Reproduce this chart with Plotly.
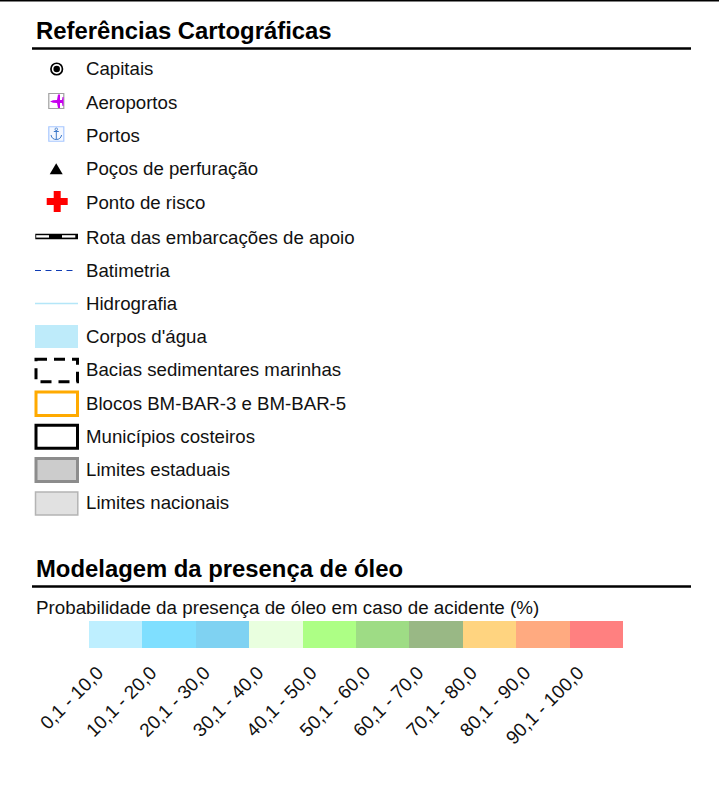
import plotly.graph_objects as go

W, H = 719, 809
FONT = "Liberation Sans, Arial, sans-serif"

title_refs = "Referências Cartográficas"
title_model = "Modelagem da presença de óleo"
subtitle = "Probabilidade da presença de óleo em caso de acidente (%)"

legend_labels = ["Capitais", "Aeroportos", "Portos", "Poços de perfuração", "Ponto de risco",
                 "Rota das embarcações de apoio", "Batimetria", "Hidrografia", "Corpos d'água",
                 "Bacias sedimentares marinhas", "Blocos BM-BAR-3 e BM-BAR-5",
                 "Municípios costeiros", "Limites estaduais", "Limites nacionais"]
row_y = [70, 104, 137, 170, 204, 239, 272, 305, 338, 371, 405, 438, 471, 504]

class_labels = ["0,1 - 10,0", "10,1 - 20,0", "20,1 - 30,0", "30,1 - 40,0", "40,1 - 50,0",
                "50,1 - 60,0", "60,1 - 70,0", "70,1 - 80,0", "80,1 - 90,0", "90,1 - 100,0"]
class_colors = ["#BEEFFF", "#7FDFFF", "#7FD2F2", "#E9FFDF", "#ADFF85",
                "#9EDC85", "#99B885", "#FFD480", "#FFAA80", "#FF8080"]
class_heights = [1] * 10

ICON_CX = 56.7
fig = go.Figure()

# Legend labels
fig.add_trace(go.Scatter(x=[86] * len(legend_labels), y=row_y, mode="text", text=legend_labels,
                         textposition="middle right", cliponaxis=False,
                         textfont=dict(family=FONT, size=18.67, color="#111111"), hoverinfo="skip"))
# Section titles
fig.add_trace(go.Scatter(x=[36, 36], y=[33.5, 571.5], mode="text",
                         text=[f"<b>{title_refs}</b>", f"<b>{title_model}</b>"],
                         textposition="middle right",
                         textfont=dict(family=FONT, size=23.85, color="#000000"), hoverinfo="skip"))
fig.add_trace(go.Scatter(x=[36], y=[609], mode="text", text=[subtitle], textposition="middle right",
                         textfont=dict(family=FONT, size=18.8, color="#111111"), hoverinfo="skip"))

def marker(y, symbol, size, color, line_color=None, line_width=0):
    fig.add_trace(go.Scatter(x=[ICON_CX], y=[y], mode="markers", hoverinfo="skip",
                             marker=dict(symbol=symbol, size=size, color=color,
                                         line=dict(color=line_color or color, width=line_width))))

def seg(x0, y0, x1, y1, color, width, dash=None):
    fig.add_shape(type="line", x0=x0, y0=y0, x1=x1, y1=y1, line=dict(color=color, width=width, dash=dash))

def box(y, h, fill, line, width, dash=None, x0=36, x1=77.5):
    fig.add_shape(type="rect", x0=x0, x1=x1, y0=y - h / 2, y1=y + h / 2, fillcolor=fill,
                  line=dict(color=line, width=width, dash=dash))

def poly(path, fill, line=None, width=0):
    fig.add_shape(type="path", path=path, fillcolor=fill, line=dict(color=line or fill, width=width))

# Capitais
marker(69, "circle", 11.5, "#FFFFFF", "#000000", 1.7)
marker(69, "circle", 6.5, "#000000")
# Aeroportos
y = 101
box(y, 15, "#FFFFFF", "#A0A0A0", 1.2, x0=48.8, x1=63.8)
purple = "#C800F0"
poly(f"M 50 {y+0.5} L 53 {y-0.7} L 57 {y-1} L 58 {y-6.5} L 60 {y-6.5} L 60 {y-1} L 62 {y-1} "
     f"L 62.5 {y-4} L 63.5 {y-4} L 63.5 {y+5} L 62.5 {y+5} L 62 {y+2} L 60 {y+2} L 60 {y+7} "
     f"L 58 {y+7} L 57 {y+2} L 53 {y+1.7} Z", purple)
# Portos
y = 134
box(y, 14.5, "#F4F8FF", "#A8C8FF", 1.2, x0=48.8, x1=63.8)
seg(56.3, y - 4, 56.3, y + 5.5, "#3C78C8", 1)
seg(53.8, y - 2.5, 58.8, y - 2.5, "#3C78C8", 1)
fig.add_shape(type="circle", x0=55, x1=57.6, y0=y - 6, y1=y - 3.5, line=dict(color="#3C78C8", width=0.8))
fig.add_shape(type="path", path=f"M 51 {y+1} Q 52 {y+5.5} 56.3 {y+5.5} Q 60.6 {y+5.5} 61.6 {y+1}",
              line=dict(color="#3C78C8", width=1))
# Poços
poly("M 49.7 174.3 L 56.2 163.3 L 62.7 174.3 Z", "#000000")
# Ponto de risco
seg(46.7, 201.5, 67.7, 201.5, "#FF0000", 7)
seg(57.2, 191, 57.2, 212, "#FF0000", 7)
# Rota
y = 236.4
seg(35.3, y, 78, y, "#000000", 5.5)
seg(36.2, y, 49, y, "#FFFFFF", 2.4)
seg(62, y, 75.3, y, "#FFFFFF", 2.4)
# Batimetria
seg(35, 270.5, 73.5, 270.5, "#0F3CB4", 1, "6px,4.5px")
# Hidrografia
seg(35, 303.5, 78, 303.5, "#B4E6F8", 1.4)
# Corpos d'água
box(336.5, 23, "#BEEBFA", "#BEEBFA", 0, x0=35, x1=78)
# Bacias
box(370.4, 22.5, "#FFFFFF", "#000000", 3, "11px,7px")
# Blocos
box(403.7, 23.5, "#FFFFFF", "#FFAA00", 3)
# Municípios
box(436.7, 23, "#FFFFFF", "#000000", 3)
# Limites
box(470, 23, "#CCCCCC", "#8C8C8C", 3)
box(503.5, 23, "#E1E1E1", "#B4B4B4", 1.5, x0=35.5, x1=77.8)

# Rules
seg(0, 0.5, W, 0.5, "#000000", 2)
seg(32, 48.5, 691, 48.5, "#000000", 2.5)
seg(32, 586.5, 691, 586.5, "#000000", 2.5)

# Colour classes through a categorical axis
fig.add_trace(go.Bar(x=class_labels, y=class_heights, marker=dict(color=class_colors, line=dict(width=0)),
                     width=1, xaxis="x2", yaxis="y2", hoverinfo="skip"))

fig.update_layout(
    width=W, height=H, margin=dict(l=0, r=0, t=0, b=0), autosize=False,
    paper_bgcolor="#FFFFFF", plot_bgcolor="rgba(0,0,0,0)", showlegend=False, bargap=0,
    xaxis=dict(range=[0, W], visible=False, domain=[0, 1]),
    yaxis=dict(range=[H, 0], visible=False, domain=[0, 1]),
    xaxis2=dict(domain=[89 / W, 623 / W], anchor="y2", type="category", tickangle=-45, showgrid=False,
                ticks="", ticklen=0, showline=False, zeroline=False, automargin=False,
                ticklabelshift=-18, ticklabelstandoff=9,
                tickfont=dict(family=FONT, size=18.9, color="#111111")),
    yaxis2=dict(domain=[1 - 648 / H, 1 - 621 / H], anchor="x2", range=[0, 1], visible=False),
)
fig.write_html("out.html", config=dict(displayModeBar=False), default_width=f"{W}px", default_height=f"{H}px",
               post_script="document.body.style.margin='0';")
